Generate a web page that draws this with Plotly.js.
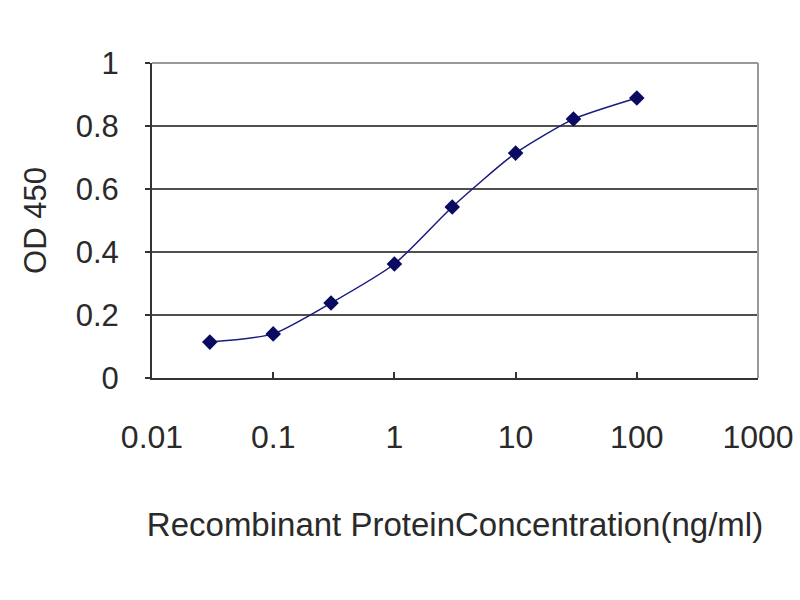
<!DOCTYPE html>
<html>
<head>
<meta charset="utf-8">
<script src="https://cdn.plot.ly/plotly-3.0.1.min.js"></script>
<style>body{margin:0;background:#fff}</style>
</head>
<body>
<div id="chart" style="width:800px;height:600px"></div>
<script>
// concentrations (ng/ml) and OD 450 readings
var conc = [0.03, 0.1, 0.3, 1, 3, 10, 30, 100];
var od450 = [0.114, 0.14, 0.238, 0.362, 0.543, 0.714, 0.822, 0.889];
var xTicks = [0.01, 0.1, 1, 10, 100, 1000];
var xTickText = ['0.01', '0.1', '1', '10', '100', '1000'];
var yTicks = [0, 0.2, 0.4, 0.6, 0.8, 1];
var yTickText = ['0', '0.2', '0.4', '0.6', '0.8', '1'];

var trace = {
    x: conc,
    y: od450,
    mode: 'lines+markers',
    line: {color: '#1a1a80', width: 1.5, shape: 'spline', smoothing: 0.6},
    marker: {symbol: 'diamond', color: '#0a0a60', size: 12},
    cliponaxis: false
};

var layout = {
    width: 800,
    height: 600,
    margin: {l: 152, r: 42, t: 63, b: 222},
    paper_bgcolor: '#fff',
    plot_bgcolor: '#fff',
    font: {family: 'Liberation Sans, Arial, sans-serif', color: '#2a2a2a'},
    showlegend: false,
    xaxis: {
        type: 'log',
        range: [-2, 3],
        tickvals: xTicks,
        ticktext: xTickText,
        ticks: 'inside',
        ticklen: 6,
        tickwidth: 2,
        tickcolor: '#333',
        tickfont: {size: 32},
        ticklabelstandoff: 30,
        showgrid: false,
        zeroline: false,
        showline: true,
        linecolor: '#333',
        linewidth: 2,
        title: {text: 'Recombinant ProteinConcentration(ng/ml)', font: {size: 33}, standoff: 58}
    },
    yaxis: {
        range: [0, 1],
        tickvals: yTicks,
        ticktext: yTickText,
        ticks: 'outside',
        ticklen: 5,
        tickwidth: 2,
        tickcolor: '#333',
        tickfont: {size: 31},
        ticklabelstandoff: 20,
        showgrid: true,
        gridcolor: '#505050',
        gridwidth: 2.5,
        zeroline: false,
        showline: true,
        linecolor: '#333',
        linewidth: 2,
        title: {text: 'OD 450', font: {size: 31}, standoff: 20}
    },
    shapes: [
        {type: 'line', xref: 'paper', yref: 'paper', x0: 0, x1: 1, y0: 1, y1: 1, line: {color: '#999', width: 2}},
        {type: 'line', xref: 'paper', yref: 'paper', x0: 1, x1: 1, y0: 0, y1: 1, line: {color: '#999', width: 2}}
    ]
};

Plotly.newPlot('chart', [trace], layout, {displayModeBar: false, staticPlot: true});
</script>
</body>
</html>
